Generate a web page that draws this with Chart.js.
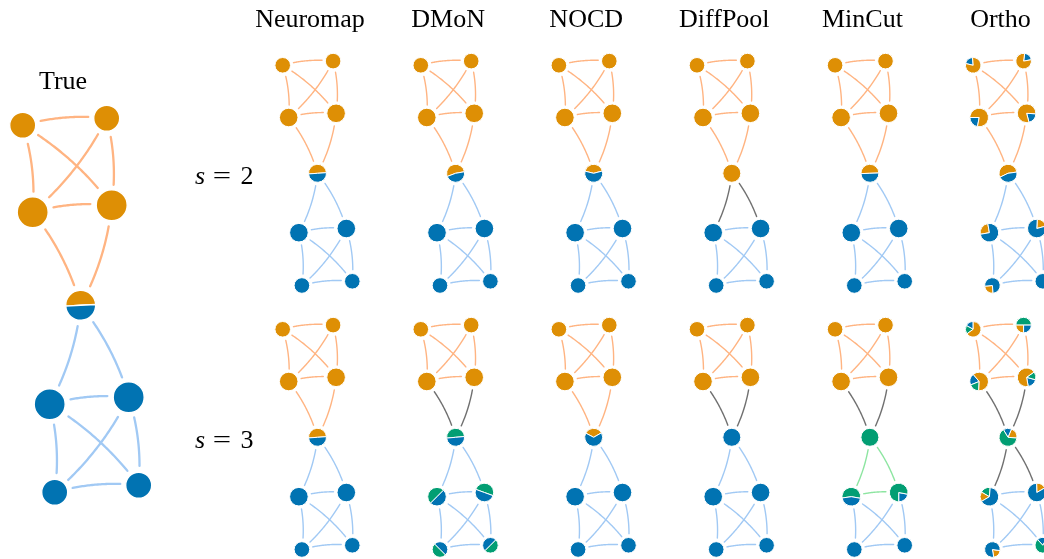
<!DOCTYPE html>
<html>
<head>
<meta charset="utf-8">
<script src="https://cdn.jsdelivr.net/npm/chart.js@4.4.1/dist/chart.umd.min.js"></script>
<style>
  html, body { margin: 0; padding: 0; background: #fff; }
  canvas { display: block; }
</style>
</head>
<body>
<canvas id="graphChart" width="1044" height="559"></canvas>
<script>
// community colours (seaborn colorblind / pastel)
const nodeColors = { o: "#DE8F05", b: "#0173B2", g: "#029E73" };
const edgeColors = { o: "#FFB482", b: "#A1C9F4", g: "#8DE5A1", k: "#707070" };

const methods = ["Neuromap", "DMoN", "NOCD", "DiffPool", "MinCut", "Ortho"];
const rowLabels = ["2", "3"];

// layout of the toy graph, in px of the big "True" panel, relative to node 0
const layoutX = [0, 84, 10, 89, 58, 27, 106, 32, 116];
const layoutY = [0, -7, 87, 80, 180, 279, 272, 367, 360];
const nodeRadius = [13, 13, 15.5, 15.5, 15, 15.5, 15.5, 13, 13];
// (from, to): edges bend to the left of their direction
const edges = [
  [0, 1], [0, 2], [0, 3], [1, 2], [1, 3], [2, 3],
  [2, 4], [3, 4], [4, 5], [4, 6],
  [5, 6], [5, 7], [5, 8], [6, 7], [6, 8], [7, 8],
];

// a letter = one community; [startAngle, colour, share, colour, share, ...] = pie
const trueNodes = ["o", "o", "o", "o", [3, "o", .5, "b", .5], "b", "b", "b", "b"];
const s2Nodes = [
  ["o", "o", "o", "o", [4, "o", .5, "b", .5], "b", "b", "b", "b"],
  ["o", "o", "o", "o", [10, "o", .53, "b", .47], "b", "b", "b", "b"],
  ["o", "o", "o", "o", [15, "o", .42, "b", .58], "b", "b", "b", "b"],
  ["o", "o", "o", "o", "o", "b", "b", "b", "b"],
  ["o", "o", "o", "o", [2, "o", .5, "b", .5], "b", "b", "b", "b"],
  [[95, "b", .2, "o", .8], [10, "b", .2, "o", .8], [180, "b", .22, "o", .78], [285, "b", .2, "o", .8],
   [8, "o", .55, "b", .45], [100, "o", .25, "b", .75], [15, "o", .2, "b", .8], [185, "o", .25, "b", .75], "b"],
];
const s3Nodes = [
  ["o", "o", "o", "o", [4, "o", .5, "b", .5], "b", "b", "b", "b"],
  ["o", "o", "o", "o", [5, "g", .5, "b", .5], [45, "g", .5, "b", .5], [-20, "g", .5, "b", .5],
   [-45, "b", .5, "g", .5], [45, "b", .5, "g", .5]],
  ["o", "o", "o", "o", [30, "o", .34, "b", .66], "b", "b", "b", "b"],
  ["o", "o", "o", "o", "b", "b", "b", "b", "b"],
  ["o", "o", "o", "o", "g", [-10, "g", .55, "b", .45], [270, "b", .22, "g", .78], "b", "b"],
  [[90, "b", .17, "g", .18, "o", .65], [0, "g", .5, "o", .25, "b", .25], [130, "b", .2, "g", .18, "o", .62],
   [280, "b", .18, "g", .14, "o", .68], [-5, "o", .2, "b", .15, "g", .65], [85, "g", .18, "o", .17, "b", .65],
   [30, "o", .17, "b", .83], [-80, "o", .2, "b", .8], [60, "b", .2, "g", .8]],
];

// edge colours in the order of `edges` (k = edge between communities)
const trueEdges = "oooooooobbbbbbbb";
const s2Edges = [
  "oooooooobbbbbbbb", "oooooooobbbbbbbb", "oooooooobbbbbbbb",
  "ooooooookkbbbbbb", "oooooooobbbbbbbb", "oooooooobbbbbbbb",
];
const s3Edges = [
  "oooooooobbbbbbbb", "oooooookkbbbbbbbb".slice(1), "oooooooobbbbbbbb",
  "oooooookkbbbbbbbb".slice(1), "oooooookkgggbbbbb".slice(1), "oooooookkkkbbbbbb".slice(1),
];

// build the panels: first node position + scale
const panels = [{ x0: 22.7, y0: 125.3, scale: 1, nodes: trueNodes, edgeCols: trueEdges }];
rowLabels.forEach((lab, row) => {
  methods.forEach((m, c) => {
    panels.push({
      x0: 282.7 + 138.1 * c,
      y0: 65.3 + 264 * row,
      scale: 0.6,
      nodes: row === 0 ? s2Nodes[c] : s3Nodes[c],
      edgeCols: row === 0 ? s2Edges[c] : s3Edges[c],
    });
  });
});

const nodeInfo = [];
panels.forEach((p) => {
  p.start = nodeInfo.length;
  p.nodes.forEach((spec, i) => {
    nodeInfo.push({
      x: p.x0 + p.scale * layoutX[i],
      y: p.y0 + p.scale * layoutY[i],
      r: p.scale * nodeRadius[i],
      spec: spec,
      scale: p.scale,
    });
  });
});

const firstColor = (spec) => nodeColors[typeof spec === "string" ? spec : spec[1]];

const graphPlugin = {
  id: "graphPlugin",
  beforeDatasetsDraw(chart) {
    const ctx = chart.ctx;
    const pts = chart.getDatasetMeta(0).data;
    ctx.save();
    ctx.lineCap = "round";
    panels.forEach((p) => {
      const gap = 5 * p.scale;
      ctx.lineWidth = p.scale === 1 ? 2.3 : 1.4;
      edges.forEach(([a, b], k) => {
        const A = pts[p.start + a], B = pts[p.start + b];
        const rA = nodeInfo[p.start + a].r + gap, rB = nodeInfo[p.start + b].r + gap;
        const dx = B.x - A.x, dy = B.y - A.y;
        const cx = (A.x + B.x) / 2 + 0.1 * dy, cy = (A.y + B.y) / 2 - 0.1 * dx;
        ctx.strokeStyle = edgeColors[p.edgeCols[k]];
        ctx.beginPath();
        let started = false;
        for (let s = 0; s <= 60; s++) {
          const t = s / 60, u = 1 - t;
          const x = u * u * A.x + 2 * u * t * cx + t * t * B.x;
          const y = u * u * A.y + 2 * u * t * cy + t * t * B.y;
          if (Math.hypot(x - A.x, y - A.y) < rA || Math.hypot(x - B.x, y - B.y) < rB) continue;
          if (!started) { ctx.moveTo(x, y); started = true; } else ctx.lineTo(x, y);
        }
        ctx.stroke();
      });
    });
    ctx.restore();
  },
  afterDatasetsDraw(chart) {
    const ctx = chart.ctx;
    const pts = chart.getDatasetMeta(0).data;
    ctx.save();
    nodeInfo.forEach((n, i) => {
      if (typeof n.spec === "string") return;
      const P = pts[i];
      let ang = n.spec[0];
      ctx.lineWidth = n.scale === 1 ? 1.4 : 1;
      ctx.strokeStyle = "#fff";
      ctx.lineJoin = "round";
      for (let j = 1; j < n.spec.length; j += 2) {
        const end = ang + 360 * n.spec[j + 1];
        ctx.beginPath();
        ctx.moveTo(P.x, P.y);
        ctx.arc(P.x, P.y, n.r, -ang * Math.PI / 180, -end * Math.PI / 180, true);
        ctx.closePath();
        ctx.fillStyle = nodeColors[n.spec[j]];
        ctx.fill();
        ctx.stroke();
        ang = end;
      }
    });
    ctx.restore();
  },
  afterDraw(chart) {
    const ctx = chart.ctx;
    ctx.save();
    ctx.fillStyle = "#000";
    ctx.textAlign = "center";
    ctx.font = "26px 'Liberation Serif'";
    ctx.fillText("True", 63, 89);
    methods.forEach((m, c) => ctx.fillText(m, 310 + 138.1 * c, 27));
    rowLabels.forEach((lab, row) => {
      const y = 184 + 264 * row;
      ctx.font = "italic 26px 'Liberation Serif'";
      ctx.fillText("s", 200, y);
      ctx.font = "26px 'Liberation Serif'";
      ctx.save();
      ctx.translate(222, y);
      ctx.scale(1.25, 1);
      ctx.fillText("=", 0, 0);
      ctx.restore();
      ctx.fillText(lab, 247, y);
    });
    ctx.restore();
  },
};

new Chart(document.getElementById("graphChart"), {
  type: "scatter",
  data: {
    datasets: [{
      data: nodeInfo.map((n) => ({ x: n.x, y: n.y })),
      pointRadius: (c) => nodeInfo[c.dataIndex].r,
      pointHoverRadius: (c) => nodeInfo[c.dataIndex].r,
      pointBackgroundColor: (c) => firstColor(nodeInfo[c.dataIndex].spec),
      pointBorderColor: "#ffffff",
      pointBorderWidth: (c) => (nodeInfo[c.dataIndex].scale === 1 ? 1.4 : 1),
      clip: false,
    }],
  },
  options: {
    responsive: false,
    animation: false,
    events: [],
    layout: { padding: 0, autoPadding: false },
    plugins: { legend: { display: false }, tooltip: { enabled: false } },
    scales: {
      x: { type: "linear", min: 0, max: 1044, display: false },
      y: { type: "linear", min: 0, max: 559, reverse: true, display: false },
    },
  },
  plugins: [graphPlugin],
});
</script>
</body>
</html>
